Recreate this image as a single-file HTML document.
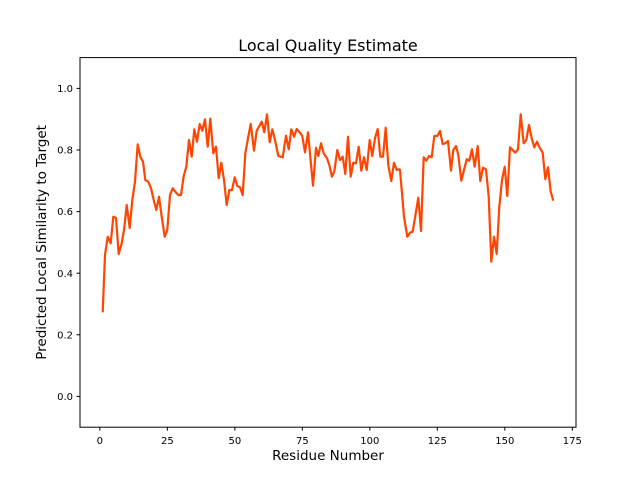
<!DOCTYPE html>
<html><head><meta charset="utf-8"><style>
html,body{margin:0;padding:0;background:#fff;}
svg text{font-family:"DejaVu Sans","Liberation Sans",sans-serif;fill:#000;}
</style></head><body>
<svg width="640" height="480" viewBox="0 0 640 480" xmlns="http://www.w3.org/2000/svg">
<rect width="640" height="480" fill="#fff"/>
<polyline fill="none" stroke="#ff4500" stroke-width="2.2" stroke-linejoin="round" points="
102.7,312.3 105,255 107.7,236.7 110.7,243.3 113.3,216.7 116,218 118.7,254 121.7,243.3 124.3,228 126.7,205 129.7,228 132.3,200 135,181.7 137.7,144.3 140.3,156.7 143,161.7 145.3,180 148.3,181.7 151,188.3 153.7,200 156.3,210 159,196.7 161.7,216.7 164.7,236.7 167.3,230 170,195 172.7,188.3 175.3,191.7 178.3,195 181,195 183.7,176 186.3,166.7 189,140 191.7,156.7 194.3,129.3 197,141.7 199.7,124 202.3,130.7 205,119.3 207.7,146.7 210.3,118.7 213.3,153.3 216,146.7 218.7,178.3 221.3,162.7 224,180 226.7,205 229.3,190 232,190 234.7,177.3 237.3,186 240,187.3 242.7,195 245.3,153.3 248,138.3 250.7,124 254,150.7 256.7,130.7 261.7,121.7 264.3,132.3 267,114.3 269.7,142.3 272.3,129.3 275,140 278.3,156 282.7,157.3 286,135.7 288.7,149.3 291.3,129.3 294,136.7 296.7,129 300,132.7 302.3,136 305,152.3 308,132.3 313,185.7 316,147.7 318.3,156 321,143.3 323.7,153.3 327,158.3 329.3,165 332,176.7 334.3,171.7 337.3,150 340,160 342.7,156.7 345.3,174 348,136.7 350.7,176.7 353.3,162.7 356,163.3 358.7,146.7 361.3,170.7 364,157.3 366.7,170 369.7,140 372.3,156 375,138.3 377.7,129 380.3,156.7 383,156.7 385.7,127.7 388.3,165 391.3,181 394,162.7 396.7,170 399.3,169.3 400,170 404,216.7 407.3,236.7 410,232.7 412.7,231.7 418.3,197.7 421,231 423.7,157.3 426.3,160.7 429,156 431.7,157.3 434.3,136 437.3,136 440,131 442.7,144 445.3,143.3 448,141 451,170.7 453.3,150 456,146 458.3,155 461.3,180.7 466.7,159.3 469.3,160.7 472,149.3 474.7,166.7 477.7,146 480.3,181 483,167.7 486,169.3 488.7,196.7 491.3,261.7 494,236.7 496.7,254 499.3,206.7 502,180 504.7,166.7 507.3,196 510,147.3 515.3,152.7 518,149.3 520.7,114.3 523.7,143.3 526.3,140 529,125 531.7,138.3 534.3,147.3 537,141.7 539.7,147.7 542.7,152.7 545.3,179 548,167.3 550.7,191.7 553.3,200.7"/>
<rect x="80" y="57.6" width="496" height="369.6" fill="none" stroke="#000" stroke-width="1"/>
<g stroke="#000" stroke-width="1">
<line x1="99.85" y1="427.2" x2="99.85" y2="430.7"/>
<line x1="167.35" y1="427.2" x2="167.35" y2="430.7"/>
<line x1="234.85" y1="427.2" x2="234.85" y2="430.7"/>
<line x1="302.35" y1="427.2" x2="302.35" y2="430.7"/>
<line x1="369.85" y1="427.2" x2="369.85" y2="430.7"/>
<line x1="437.35" y1="427.2" x2="437.35" y2="430.7"/>
<line x1="504.85" y1="427.2" x2="504.85" y2="430.7"/>
<line x1="572.35" y1="427.2" x2="572.35" y2="430.7"/>
<line x1="76.5" y1="396.4" x2="80" y2="396.4"/>
<line x1="76.5" y1="334.8" x2="80" y2="334.8"/>
<line x1="76.5" y1="273.2" x2="80" y2="273.2"/>
<line x1="76.5" y1="211.6" x2="80" y2="211.6"/>
<line x1="76.5" y1="150" x2="80" y2="150"/>
<line x1="76.5" y1="88.4" x2="80" y2="88.4"/>
</g>
<g font-size="10" text-anchor="middle">
<text x="99.85" y="444">0</text>
<text x="167.35" y="444">25</text>
<text x="234.85" y="444">50</text>
<text x="302.35" y="444">75</text>
<text x="369.85" y="444">100</text>
<text x="437.35" y="444">125</text>
<text x="504.85" y="444">150</text>
<text x="572.35" y="444">175</text>
</g>
<g font-size="10" text-anchor="end">
<text x="73" y="400">0.0</text>
<text x="73" y="338.4">0.2</text>
<text x="73" y="276.8">0.4</text>
<text x="73" y="215.2">0.6</text>
<text x="73" y="153.6">0.8</text>
<text x="73" y="92">1.0</text>
</g>
<text x="328" y="460" font-size="13.5" text-anchor="middle">Residue Number</text>
<text transform="translate(46,242.4) rotate(-90)" font-size="13.5" text-anchor="middle">Predicted Local Similarity to Target</text>
<text x="328" y="51" font-size="16" text-anchor="middle">Local Quality Estimate</text>
</svg>
</body></html>
